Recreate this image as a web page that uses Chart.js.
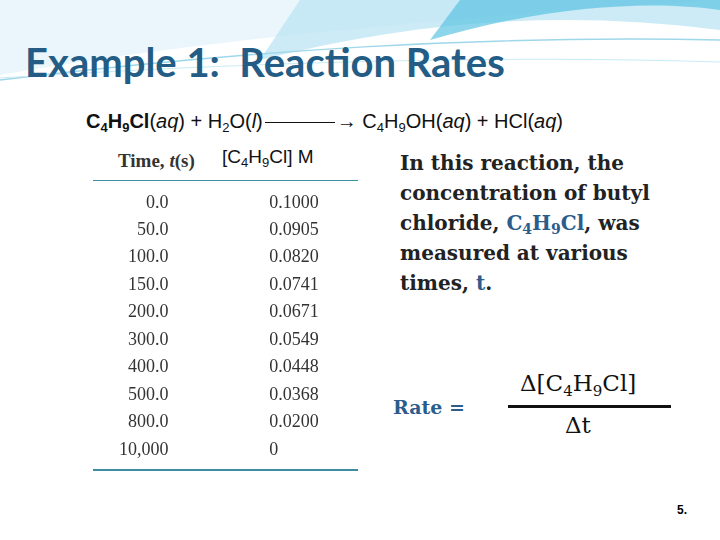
<!DOCTYPE html>
<html><head><meta charset="utf-8">
<script src="https://cdn.jsdelivr.net/npm/chart.js@4"></script>
<style>
body{margin:0;width:720px;height:540px;background:#fff;position:relative;overflow:hidden;font-family:"Liberation Sans",Arial,sans-serif}
.abs{position:absolute;white-space:nowrap}
sub{line-height:0;vertical-align:-0.3em}
#title{left:25px;top:38px;font-family:"Lato",sans-serif;font-weight:bold;font-size:40px;color:#235d86}
#eq{left:86px;top:110px;font-size:20px;color:#111}
.serif{font-family:"DejaVu Serif",serif;font-weight:bold;font-size:20px;color:#222}
#tablewrap{left:90px;top:185px;width:270px;height:280px}
</style></head><body>
<svg class="abs" style="left:0;top:0" width="720" height="110">
<path d="M0 75 C200 40 420 20 720 0 L720 0 L0 0Z" fill="#eaf6fb"/>
<path d="M260 60 C420 20 560 10 720 30 L720 0 L300 0Z" fill="#b8e3f2" opacity=".7"/>
<path d="M430 40 C550 5 650 0 720 10 L720 0 L460 0Z" fill="#5cc3e3" opacity=".7"/>
<path d="M0 80 C250 50 480 35 720 40" stroke="#9fd7ea" fill="none" stroke-width="1.5"/>
<path d="M0 78 C250 62 500 55 720 62" stroke="#c9ebf5" fill="none" stroke-width="1"/>
</svg>
<div id="title" class="abs">Example 1:&nbsp; Reaction Rates</div>
<div id="eq" class="abs"><b>C<sub style="font-size:13px">4</sub>H<sub style="font-size:13px">9</sub>Cl</b>(<i>aq</i>) + H<sub style="font-size:13px">2</sub>O(<i>l</i>)<span style="display:inline-block;width:70px;border-top:1px solid #111;vertical-align:middle;margin:0 2px"></span>&rarr; C<sub style="font-size:13px">4</sub>H<sub style="font-size:13px">9</sub>OH(<i>aq</i>) + HCl(<i>aq</i>)</div>
<div class="abs" style="left:118px;top:150px;font-family:'Liberation Serif',serif;font-weight:bold;font-size:19px;color:#333">Time, <i>t</i>(s)</div>
<div class="abs" style="left:222px;top:146px;font-size:19px;color:#111">[C<sub style="font-size:13px">4</sub>H<sub style="font-size:13px">9</sub>Cl] M</div>
<div class="abs" style="left:93px;top:180px;width:265px;border-top:1.5px solid #3d8ea0"></div>
<div class="abs" style="left:93px;top:469px;width:265px;border-top:2.5px solid #3d8ea0"></div>
<div id="tablewrap" class="abs"><canvas id="tbl"></canvas></div>
<div class="abs serif" style="left:400px;top:148px;line-height:30px">In this reaction, the<br>concentration of butyl<br>chloride, <span style="color:#2b5d8c">C<sub style="font-size:14px">4</sub>H<sub style="font-size:14px">9</sub>Cl</span>, was<br>measured at various<br>times, <span style="color:#2b5d8c">t</span>.</div>
<div class="abs serif" style="left:393px;top:396px;color:#2b5d8c;font-size:19px">Rate =</div>
<div class="abs" style="left:520px;top:370px;font-family:'DejaVu Serif',serif;font-size:23px;color:#111">&Delta;[C<sub style="font-size:15px">4</sub>H<sub style="font-size:15px">9</sub>Cl]</div>
<div class="abs" style="left:508px;top:405px;width:163px;border-top:3px solid #111"></div>
<div class="abs" style="left:565px;top:412px;font-family:'DejaVu Serif',serif;font-size:23px;color:#111">&Delta;t</div>
<div class="abs" style="left:677px;top:503px;font-size:12px;font-weight:bold">5.</div>
<script>
const times = ['0.0','50.0','100.0','150.0','200.0','300.0','400.0','500.0','800.0','10,000'];
const concs = ['0.1000','0.0905','0.0820','0.0741','0.0671','0.0549','0.0448','0.0368','0.0200','0'];

const tableText = {
  id: 'tableText',
  afterDatasetsDraw(chart) {
    const {ctx, scales: {x, y}} = chart;
    ctx.save();
    ctx.font = '18px "Liberation Serif", serif';
    ctx.fillStyle = '#333';
    ctx.textBaseline = 'middle';
    times.forEach((t, i) => {
      const py = y.getPixelForValue(i);
      ctx.textAlign = 'right';
      ctx.fillText(t, x.getPixelForValue(0), py);
      ctx.textAlign = 'left';
      ctx.fillText(concs[i], x.getPixelForValue(1), py);
    });
    ctx.restore();
  }
};

new Chart(document.getElementById('tbl').getContext('2d'), {
  type: 'scatter',
  data: { datasets: [{ data: times.map((t, i) => ({x: 0, y: i})), pointRadius: 0 }] },
  options: {
    responsive: true, maintainAspectRatio: false, animation: false,
    layout: { padding: 0 },
    plugins: { legend: { display: false }, tooltip: { enabled: false } },
    scales: {
      x: { display: false, min: -0.78, max: 1.9 },
      y: { display: false, reverse: true, min: -0.65, max: 9.55 }
    }
  },
  plugins: [tableText]
});
</script>
</body></html>
